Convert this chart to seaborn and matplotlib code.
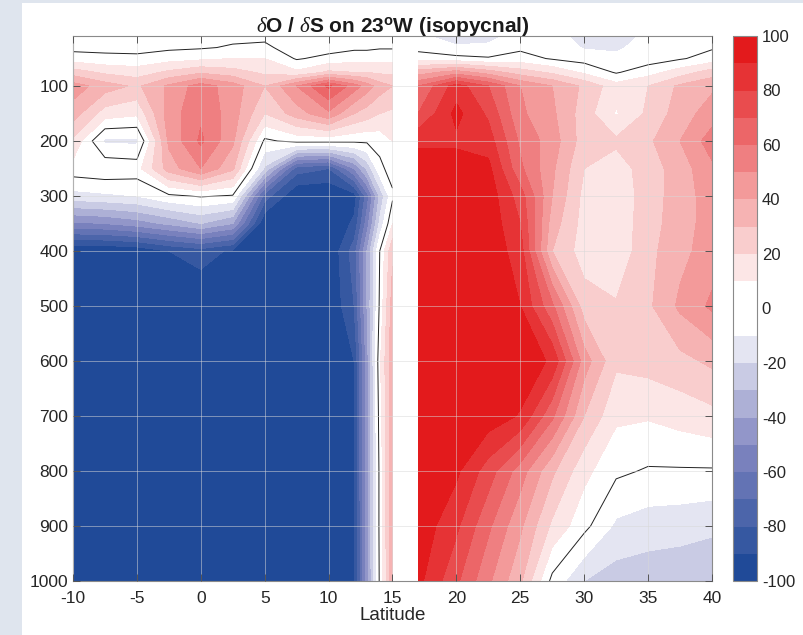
import numpy as np
import matplotlib
matplotlib.use('Agg')
import matplotlib.pyplot as plt
from matplotlib.colors import ListedColormap
from matplotlib.patches import Rectangle
import seaborn as sns

sns.set_theme(style='white')
plt.rcParams['font.family'] = ['Liberation Sans', 'DejaVu Sans']
plt.rcParams['axes.unicode_minus'] = False
plt.rcParams['mathtext.fontset'] = 'custom'
plt.rcParams['mathtext.rm'] = 'Liberation Sans'
plt.rcParams['mathtext.bf'] = 'Liberation Sans:bold'
plt.rcParams['mathtext.it'] = 'Liberation Serif:italic'

# ------------------------------------------------------------------
# Data: dO/dS ratio on the 23W section (isopycnal)
# columns = latitude, rows = depth; lat 16 has no data (gap)
# ------------------------------------------------------------------
lat = [-10, -7.5, -5, -2.5, 0, 2.5, 5, 7.5, 10, 12, 13, 14, 15, 16,
       17, 20, 22.5, 25, 27.5, 30, 32.5, 35, 37.5, 40]
depth = [5, 30, 50, 75, 100, 150, 200, 250, 300, 350, 400, 500, 600, 700, 800, 900, 1000]

nan = np.nan
z5    = [-4, -4, -4, -4, -4, -3, -3, -4, -4, -3, -3, -3, -3, nan, -9, -18, -16, -6, -6, -15, -16, -8, -5, -4]
z30   = [-3, -3, -4, -2, -1, 1, 2, -5, -4, -2, -2, -1, -1, nan, -3, -8, -7, -2, -3, -11, -12, -5, -3, -1]
z50   = [5, 3, 3, 6, 8, 10, 10, -1, 3, 6, 6, 7, 7, nan, 5, 3, 1, 4, -1, -4, -7, -5, -1, 4]
z75   = [25, 18, 15, 22, 28, 24, 18, 12, 22, 20, 20, 18, 18, nan, 35, 45, 35, 25, 18, 8, -1, 6, 15, 25]
z100  = [45, 35, 28, 42, 55, 45, 30, 50, 72, 55, 45, 35, 30, nan, 60, 85, 70, 50, 40, 28, 14, 20, 32, 38]
z150  = [35, 15, 12, 45, 58, 45, 20, 35, 48, 30, 25, 20, 18, nan, 70, 93, 78, 52, 42, 25, 9, 22, 35, 45]
z200  = [18, -12, -12, 42, 62, 42, -2, 3, 3, 2, 2, 4, 10, nan, 88, 88, 85, 58, 45, 25, 22, 28, 40, 55]
z250  = [6, 8, 6, 35, 50, 32, -22, -75, -80, -50, -28, -3, 5, nan, 95, 95, 93, 62, 42, 20, 15, 25, 35, 48]
z300  = [-14, -12, -10, -2, 1, -1, -75, -100, -100, -95, -65, -28, -2, nan, 97, 98, 96, 75, 40, 17, 13, 25, 35, 45]
z350  = [-52, -50, -45, -38, -30, -40, -100, -100, -100, -88, -55, -18, 10, nan, 98, 98, 97, 80, 35, 16, 13, 26, 35, 45]
z400  = [-100, -100, -98, -90, -85, -92, -100, -100, -100, -75, -40, 0, 28, nan, 98, 98, 97, 85, 30, 15, 13, 27, 37, 45]
z500  = [-100, -100, -100, -100, -100, -100, -100, -100, -100, -80, -40, 2, 35, nan, 98, 98, 97, 90, 62, 25, 21, 28, 42, 52]
z600  = [-100, -100, -100, -100, -100, -100, -100, -100, -100, -90, -45, 8, 38, nan, 98, 98, 98, 98, 88, 45, 22, 24, 27, 32]
z700  = [-100, -100, -100, -100, -100, -100, -100, -100, -100, -90, -45, 5, 38, nan, 98, 98, 96, 89, 62, 30, 12, 11, 14, 17]
z800  = [-100, -100, -100, -100, -100, -100, -100, -100, -100, -90, -45, 3, 38, nan, 98, 92, 75, 55, 32, 13, 2, -1, -1, -1]
z900  = [-100, -100, -100, -100, -100, -100, -100, -100, -100, -92, -45, 3, 38, nan, 97, 82, 62, 42, 18, 3, -12, -15, -16, -18]
z1000 = [-100, -100, -100, -100, -100, -100, -100, -100, -100, -92, -45, 2, 38, nan, 93, 72, 52, 32, -3, -20, -25, -26, -27, -28]

ratio = np.array([z5, z30, z50, z75, z100, z150, z200, z250, z300, z350,
                  z400, z500, z600, z700, z800, z900, z1000], dtype=float)

levels = np.arange(-100, 101, 10)
cbar_ticks = np.arange(-100, 101, 20)
x_ticks = np.arange(-10, 41, 5)
y_ticks = np.arange(100, 1001, 100)

# 20-step diverging map, white for -10..10
blues = sns.blend_palette(['#204a98', '#8488c2', '#ffffff'], 10)
reds = sns.blend_palette(['#ffffff', '#e31a1c'], 10)
cmap = ListedColormap(blues + reds)

# ------------------------------------------------------------------
# Plot
# ------------------------------------------------------------------
fig = plt.figure(figsize=(8.04, 6.35), dpi=100)
fig.patch.set_facecolor('#dfe5ee')
fig.add_artist(Rectangle((22 / 804, 0), 1, 632 / 635, transform=fig.transFigure,
                         facecolor='white', edgecolor='none', zorder=-5))

ax = fig.add_axes([73 / 804, 54 / 635, 639 / 804, 545 / 635])
cax = fig.add_axes([733 / 804, 54 / 635, 24 / 804, 545 / 635])

cs = ax.contourf(lat, depth, ratio, levels=levels, cmap=cmap, vmin=-100, vmax=100)
ax.contour(lat, depth, ratio, levels=[0], colors='#222222', linewidths=0.7)

ax.set_xlim(-10, 40)
ax.set_ylim(1000, 9)
ax.set_xticks(x_ticks)
ax.set_yticks(y_ticks)
ax.grid(True, color='#d8d8d8', alpha=0.6, linewidth=0.6)
ax.set_axisbelow(False)
ax.tick_params(direction='in', length=5, width=0.7, color='#555555',
               labelsize=12.5, labelcolor='#262626', top=True, right=True,
               bottom=True, left=True)
ax.tick_params(axis='x', pad=7)
for sp in ax.spines.values():
    sp.set_color('#8a8a8a')
    sp.set_linewidth(0.8)

ax.set_xlabel('Latitude', fontsize=13.5, color='#262626', labelpad=1)
ax.set_title(r'$\delta$O / $\delta$S on 23$^{\mathbf{o}}$W (isopycnal)',
             fontsize=15, fontweight='bold', color='#1a1a1a', pad=3)

cb = fig.colorbar(cs, cax=cax, ticks=cbar_ticks)
cb.outline.set_edgecolor('#8a8a8a')
cb.outline.set_linewidth(0.8)
cax.tick_params(direction='in', length=5, width=0.7, color='#555555',
                labelsize=12, labelcolor='#262626')

plt.savefig('out.png', dpi=100, facecolor=fig.get_facecolor())
